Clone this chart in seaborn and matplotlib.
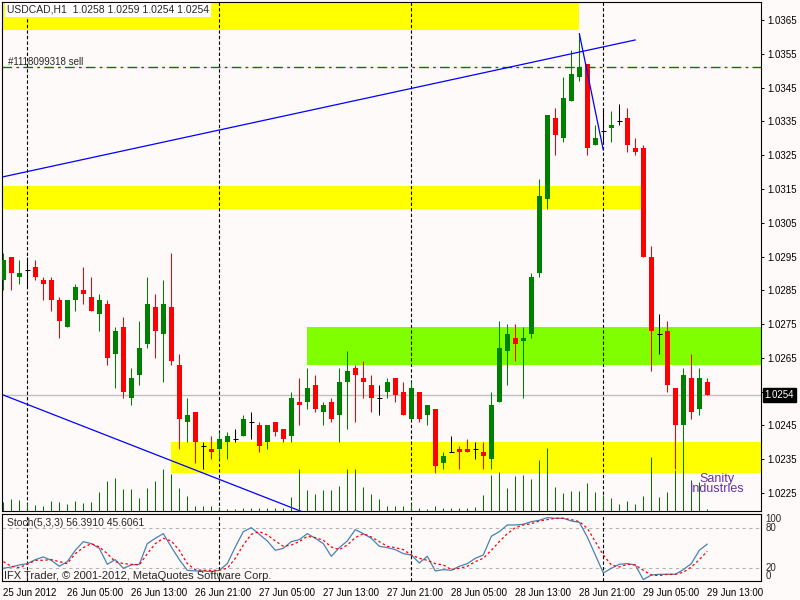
"""USDCAD H1 chart in MetaTrader look: candles, zones, volumes and a stochastic pane"""

import matplotlib
matplotlib.use("Agg")
import matplotlib.pyplot as plt
import seaborn as sns
import numpy as np
import pandas as pd


# H1 bars, the first one is 25 Jun 2012 21:00
first_bar = "2012-06-25 21:00"

opens = [1.0288, 1.0295, 1.0289, 1.0291, 1.0292, 1.0288, 1.0288, 1.0282, 1.0274, 1.0282,
         1.0285, 1.0283, 1.0278, 1.0281, 1.0266, 1.0274, 1.0253, 1.0260, 1.0269, 1.0280,
         1.0272, 1.0280, 1.0263, 1.0246, 1.0249, 1.0239, 1.0238, 1.0238, 1.0240, 1.0241,
         1.0242, 1.0246, 1.0245, 1.0240, 1.0246, 1.0244, 1.0242, 1.0252, 1.0252, 1.0257,
         1.0249, 1.0252, 1.0248, 1.0258, 1.0262, 1.0259, 1.0257, 1.0253, 1.0255, 1.0259,
         1.0255, 1.0247, 1.0255, 1.0248, 1.0250, 1.0234, 1.0237, 1.0238, 1.0238, 1.0238,
         1.0237, 1.0235, 1.0252, 1.0267, 1.0271, 1.0270, 1.0272, 1.0290, 1.0312, 1.0336,
         1.0330, 1.0341, 1.0348, 1.0352, 1.0328, 1.0332, 1.0333, 1.0335, 1.0336, 1.0327,
         1.0327, 1.0295, 1.0272, 1.0273, 1.0256, 1.0245, 1.0259, 1.0250, 1.0258]
highs = [1.0296, 1.0295, 1.0294, 1.0295, 1.0294, 1.0289, 1.0289, 1.0283, 1.0282, 1.0287,
         1.0292, 1.0289, 1.0284, 1.0282, 1.0274, 1.0277, 1.0262, 1.0276, 1.0289, 1.0284,
         1.0288, 1.0296, 1.0266, 1.0253, 1.0249, 1.0240, 1.0242, 1.0243, 1.0243, 1.0244,
         1.0248, 1.0249, 1.0246, 1.0245, 1.0246, 1.0244, 1.0255, 1.0259, 1.0262, 1.0260,
         1.0252, 1.0253, 1.0262, 1.0267, 1.0263, 1.0264, 1.0260, 1.0257, 1.0259, 1.0259,
         1.0258, 1.0258, 1.0255, 1.0251, 1.0250, 1.0237, 1.0242, 1.0239, 1.0241, 1.0240,
         1.0240, 1.0255, 1.0276, 1.0275, 1.0275, 1.0274, 1.0290, 1.0318, 1.0337, 1.0339,
         1.0348, 1.0356, 1.0361, 1.0352, 1.0334, 1.0339, 1.0338, 1.0340, 1.0339, 1.0330,
         1.0328, 1.0298, 1.0278, 1.0276, 1.0256, 1.0262, 1.0266, 1.0262, 1.0259]
lows = [1.0285, 1.0285, 1.0287, 1.0286, 1.0288, 1.0282, 1.0279, 1.0271, 1.0274, 1.0279,
        1.0281, 1.0279, 1.0273, 1.0263, 1.0256, 1.0253, 1.0251, 1.0257, 1.0268, 1.0265,
        1.0258, 1.0263, 1.0238, 1.0240, 1.0234, 1.0232, 1.0235, 1.0235, 1.0235, 1.0240,
        1.0242, 1.0241, 1.0237, 1.0238, 1.0242, 1.0240, 1.0240, 1.0245, 1.0250, 1.0249,
        1.0245, 1.0246, 1.0240, 1.0244, 1.0246, 1.0253, 1.0249, 1.0248, 1.0253, 1.0252,
        1.0248, 1.0247, 1.0246, 1.0245, 1.0231, 1.0232, 1.0237, 1.0232, 1.0237, 1.0235,
        1.0232, 1.0232, 1.0252, 1.0257, 1.0264, 1.0253, 1.0271, 1.0289, 1.0309, 1.0325,
        1.0329, 1.0341, 1.0347, 1.0325, 1.0328, 1.0329, 1.0329, 1.0334, 1.0326, 1.0325,
        1.0295, 1.0261, 1.0266, 1.0255, 1.0232, 1.0232, 1.0247, 1.0248, 1.0254]
closes = [1.0294, 1.0290, 1.0290, 1.0291, 1.0289, 1.0287, 1.0282, 1.0276, 1.0282, 1.0286,
          1.0284, 1.0279, 1.0282, 1.0265, 1.0273, 1.0255, 1.0259, 1.0268, 1.0281, 1.0273,
          1.0281, 1.0264, 1.0247, 1.0248, 1.0240, 1.0239, 1.0237, 1.0241, 1.0242, 1.0241,
          1.0247, 1.0246, 1.0239, 1.0245, 1.0243, 1.0241, 1.0253, 1.0251, 1.0256, 1.0250,
          1.0251, 1.0247, 1.0258, 1.0261, 1.0260, 1.0258, 1.0253, 1.0253, 1.0258, 1.0254,
          1.0248, 1.0256, 1.0247, 1.0251, 1.0233, 1.0236, 1.0237, 1.0237, 1.0237, 1.0238,
          1.0236, 1.0251, 1.0268, 1.0272, 1.0269, 1.0271, 1.0289, 1.0313, 1.0337, 1.0331,
          1.0342, 1.0349, 1.0351, 1.0327, 1.0330, 1.0332, 1.0334, 1.0335, 1.0328, 1.0326,
          1.0295, 1.0273, 1.0272, 1.0257, 1.0245, 1.0260, 1.0249, 1.0259, 1.0254]
volumes = [9, 12, 11, 8, 6, 5, 10, 9, 7, 10, 8, 9, 19, 30, 33, 22, 22, 13, 23, 30,
           42, 37, 23, 15, 5, 5, 5, 4, 2, 2, 3, 3, 3, 3, 3, 3, 14, 42, 21, 17,
           21, 21, 25, 42, 42, 24, 17, 12, 5, 5, 5, 7, 3, 2, 5, 3, 3, 3, 3, 4,
           16, 36, 39, 23, 35, 36, 32, 51, 63, 24, 18, 20, 20, 28, 19, 16, 13, 7, 10, 7,
           15, 54, 14, 19, 41, 44, 31, 29, 2]

stoch_main = [20, 22, 25, 27, 33, 37, 32, 23, 30, 47, 60, 57, 50, 26, 33, 20, 25, 26, 57, 65,
              72, 52, 33, 17, 16, 16, 15, 17, 27, 52, 75, 81, 71, 61, 47, 50, 60, 63, 72, 65,
              57, 38, 51, 61, 78, 72, 65, 53, 51, 48, 42, 40, 28, 38, 16, 18, 17, 23, 27, 35,
              40, 68, 75, 85, 85, 86, 90, 92, 96, 95, 95, 91, 89, 67, 40, 13, 20, 26, 27, 25,
              3, 10, 11, 11, 11, 18, 27, 47, 56.391]
stoch_signal = [30, 23, 21, 26, 32, 32, 33, 30, 27, 42, 51, 57, 52, 42, 30, 27, 26, 25, 42, 57,
                65, 61, 47, 27, 18, 17, 17, 17, 20, 35, 55, 71, 75, 70, 61, 53, 55, 60, 68, 66,
                62, 52, 48, 55, 66, 72, 67, 60, 53, 51, 48, 40, 35, 32, 27, 25, 18, 20, 23, 30,
                35, 47, 60, 72, 81, 85, 87, 91, 93, 95, 95, 93, 90, 80, 60, 40, 25, 22, 26, 25,
                17, 10, 9, 11, 11, 14, 22, 33, 45.6061]
stoch_levels = [80, 20]

# support / resistance rectangles (bar index from, to; price low, high)
zone_start = [-5, -5, 38, 21]
zone_end = [72, 79.7, 200, 200]
zone_low = [1.0362, 1.0309, 1.0263, 1.0231]
zone_high = [1.0390, 1.0316, 1.0274, 1.0240]
zone_colors = ["#ffff00", "#ffff00", "#80ff00", "#ffff00"]

trend_up_bars = [0, 79]
trend_up_prices = [1.03186, 1.03591]
trend_down_bars = [0, 40]
trend_down_prices = [1.0254, 1.0217]
trend_drop_bars = [72, 75]
trend_drop_prices = [1.0361, 1.03265]

sell_price = 1.0351
sell_label = "#1118099318 sell"
bid_price = 1.0254
price_ticks = [1.0225, 1.0235, 1.0245, 1.0255, 1.0265, 1.0275, 1.0285, 1.0295,
               1.0305, 1.0315, 1.0325, 1.0335, 1.0345, 1.0355, 1.0365]

header = "USDCAD,H1  1.0258 1.0259 1.0254 1.0254"
stoch_header = "Stoch(5,3,3) 56.3910 45.6061"
copyright_text = "IFX Trader, \u00a9 2001-2012, MetaQuotes Software Corp."

BG = "#fffafa"
BULL = "#008000"
BEAR = "#ff0000"


sns.set_style("white", {"axes.facecolor": BG, "figure.facecolor": BG})
plt.rcParams["font.family"] = ["Liberation Sans", "DejaVu Sans"]
plt.rcParams["font.size"] = 7

times = pd.date_range(first_bar, periods=len(opens), freq="h")
bars = np.arange(len(opens))
o, h, l, c = (np.array(v) for v in (opens, highs, lows, closes))
day_starts = bars[times.hour == 0]

W, H = 800, 600
fig = plt.figure(figsize=(8, 6), dpi=100)


def px_axes(x0, y0, x1, y1):
    return fig.add_axes([x0 / W, 1 - y1 / H, (x1 - x0) / W, (y1 - y0) / H])


ax = px_axes(2, 2, 761, 511)
ax2 = px_axes(2, 514, 761, 581)
xlim = (-0.1625, 94.71)

# volumes on their own scale (twinx first, it moves the price ticks to the left)
axv = ax.twinx()
axv.vlines(bars, 0, volumes, color="#0b6e0b", lw=0.75)
axv.set_ylim(0, max(volumes) / 0.124)
axv.set_yticks([])
axv.set_xlim(*xlim)

# zones, behind everything
for x0, x1, lo, hi, col in zip(zone_start, zone_end, zone_low, zone_high, zone_colors):
    ax.fill_between([x0, x1], lo, hi, color=col, lw=0, zorder=0.5)

ax.axhline(bid_price, color="#c0c0c0", lw=1, zorder=1)
ax.axhline(sell_price, color="#007a00", lw=1, ls=(0, (7, 3, 2, 3)), zorder=1)
for d in day_starts:
    ax.axvline(d, color="black", lw=0.8, ls=(0, (3, 2)), zorder=1.2)
    ax2.axvline(d, color="black", lw=0.8, ls=(0, (3, 2)), zorder=1.2)

# candles
up, down, flat = c > o, c < o, c == o
for mask, col in ((up, BULL), (down, BEAR)):
    ax.vlines(bars[mask], l[mask], h[mask], color=col, lw=0.75, zorder=3)
    ax.bar(bars[mask], np.abs(c - o)[mask], bottom=np.minimum(o, c)[mask],
           width=0.62, color=col, lw=0, zorder=3)
ax.vlines(bars[flat], l[flat], h[flat], color="black", lw=0.75, zorder=3)
ax.hlines(c[flat], bars[flat] - 0.33, bars[flat] + 0.33, color="black", lw=0.75, zorder=3)

# trend lines
for xs, ys in ((trend_up_bars, trend_up_prices), (trend_down_bars, trend_down_prices),
               (trend_drop_bars, trend_drop_prices)):
    ax.plot(xs, ys, color="#0000ff", lw=0.9, zorder=4)

ax.set_xlim(*xlim)
ax.set_ylim(1.021967, 1.037033)
ax.set_xticks([])
ax.yaxis.tick_right()
ax.yaxis.set_label_position("right")
ax.set_yticks(price_ticks)
ax.set_yticklabels([f"{p:.4f}" for p in price_ticks])
ax.tick_params(axis="y", which="both", left=False, labelleft=False, right=True,
               labelright=True, direction="out", length=2.5, width=0.7, pad=2,
               labelsize=7, colors="black")

ax.annotate(f"{bid_price:.4f}", xy=(1, bid_price), xycoords=("axes fraction", "data"),
            xytext=(2.5, 0), textcoords="offset points", va="center", ha="left",
            color="white", fontsize=7, zorder=10, annotation_clip=False,
            bbox=dict(boxstyle="square,pad=0.2", fc="black", ec="black"))

# stochastic pane
for lev in stoch_levels:
    ax2.axhline(lev, color="#b4b4b4", lw=0.8, ls=(0, (3, 3)), zorder=1)
sns.lineplot(x=bars, y=stoch_main, ax=ax2, color="#4682b4", lw=0.9, zorder=3)
sns.lineplot(x=bars, y=stoch_signal, ax=ax2, color="#ff0000", lw=0.9,
             ls=(0, (2, 2)), zorder=3)
ax2.set_xlim(*xlim)
ax2.set_ylim(0.95, 101.45)
ax2.set_yticks([])
ax2.set_ylabel("")
tick_bars = bars[::8]
tick_labels = [t.strftime("%d %b %Y") if i == 0 else t.strftime("%d %b %H:%M")
               for i, t in enumerate(times[::8])]
ax2.set_xticks(tick_bars)
ax2.set_xticklabels(tick_labels, ha="left")
ax2.tick_params(axis="x", direction="out", length=3, width=0.7, pad=2,
                labelsize=7, colors="black")
yt = ax2.get_yaxis_transform()
ax2.text(1.006, 101.45, "100", transform=yt, va="top", ha="left", fontsize=7)
ax2.text(1.006, 80, "80", transform=yt, va="center", ha="left", fontsize=7)
ax2.text(1.006, 20, "20", transform=yt, va="center", ha="left", fontsize=7)
ax2.text(1.006, 0.95, "0", transform=yt, va="bottom", ha="left", fontsize=7)

for a in (ax, ax2):
    for s in a.spines.values():
        s.set_visible(True)
        s.set_color("black")
        s.set_linewidth(0.8)
for s in axv.spines.values():
    s.set_visible(False)

# texts
fig.text(7 / W, 1 - 10 / H, header, fontsize=7.5, va="center", ha="left",
         bbox=dict(boxstyle="square,pad=0.15", fc="white", ec="none"))
fig.text(8 / W, 1 - 62 / H, sell_label, fontsize=7, va="center", ha="left")
fig.text(7 / W, 1 - 523 / H, stoch_header, fontsize=7.5, va="center", ha="left")
fig.text(4 / W, 1 - 576 / H, copyright_text, fontsize=8, va="center", ha="left")
fig.text(717 / W, 1 - 484 / H, "Sanity\nIndustries", fontsize=9, va="center",
         ha="center", color="#6a2fa8", linespacing=0.8)

fig.savefig("out.png", dpi=100, facecolor=BG)
